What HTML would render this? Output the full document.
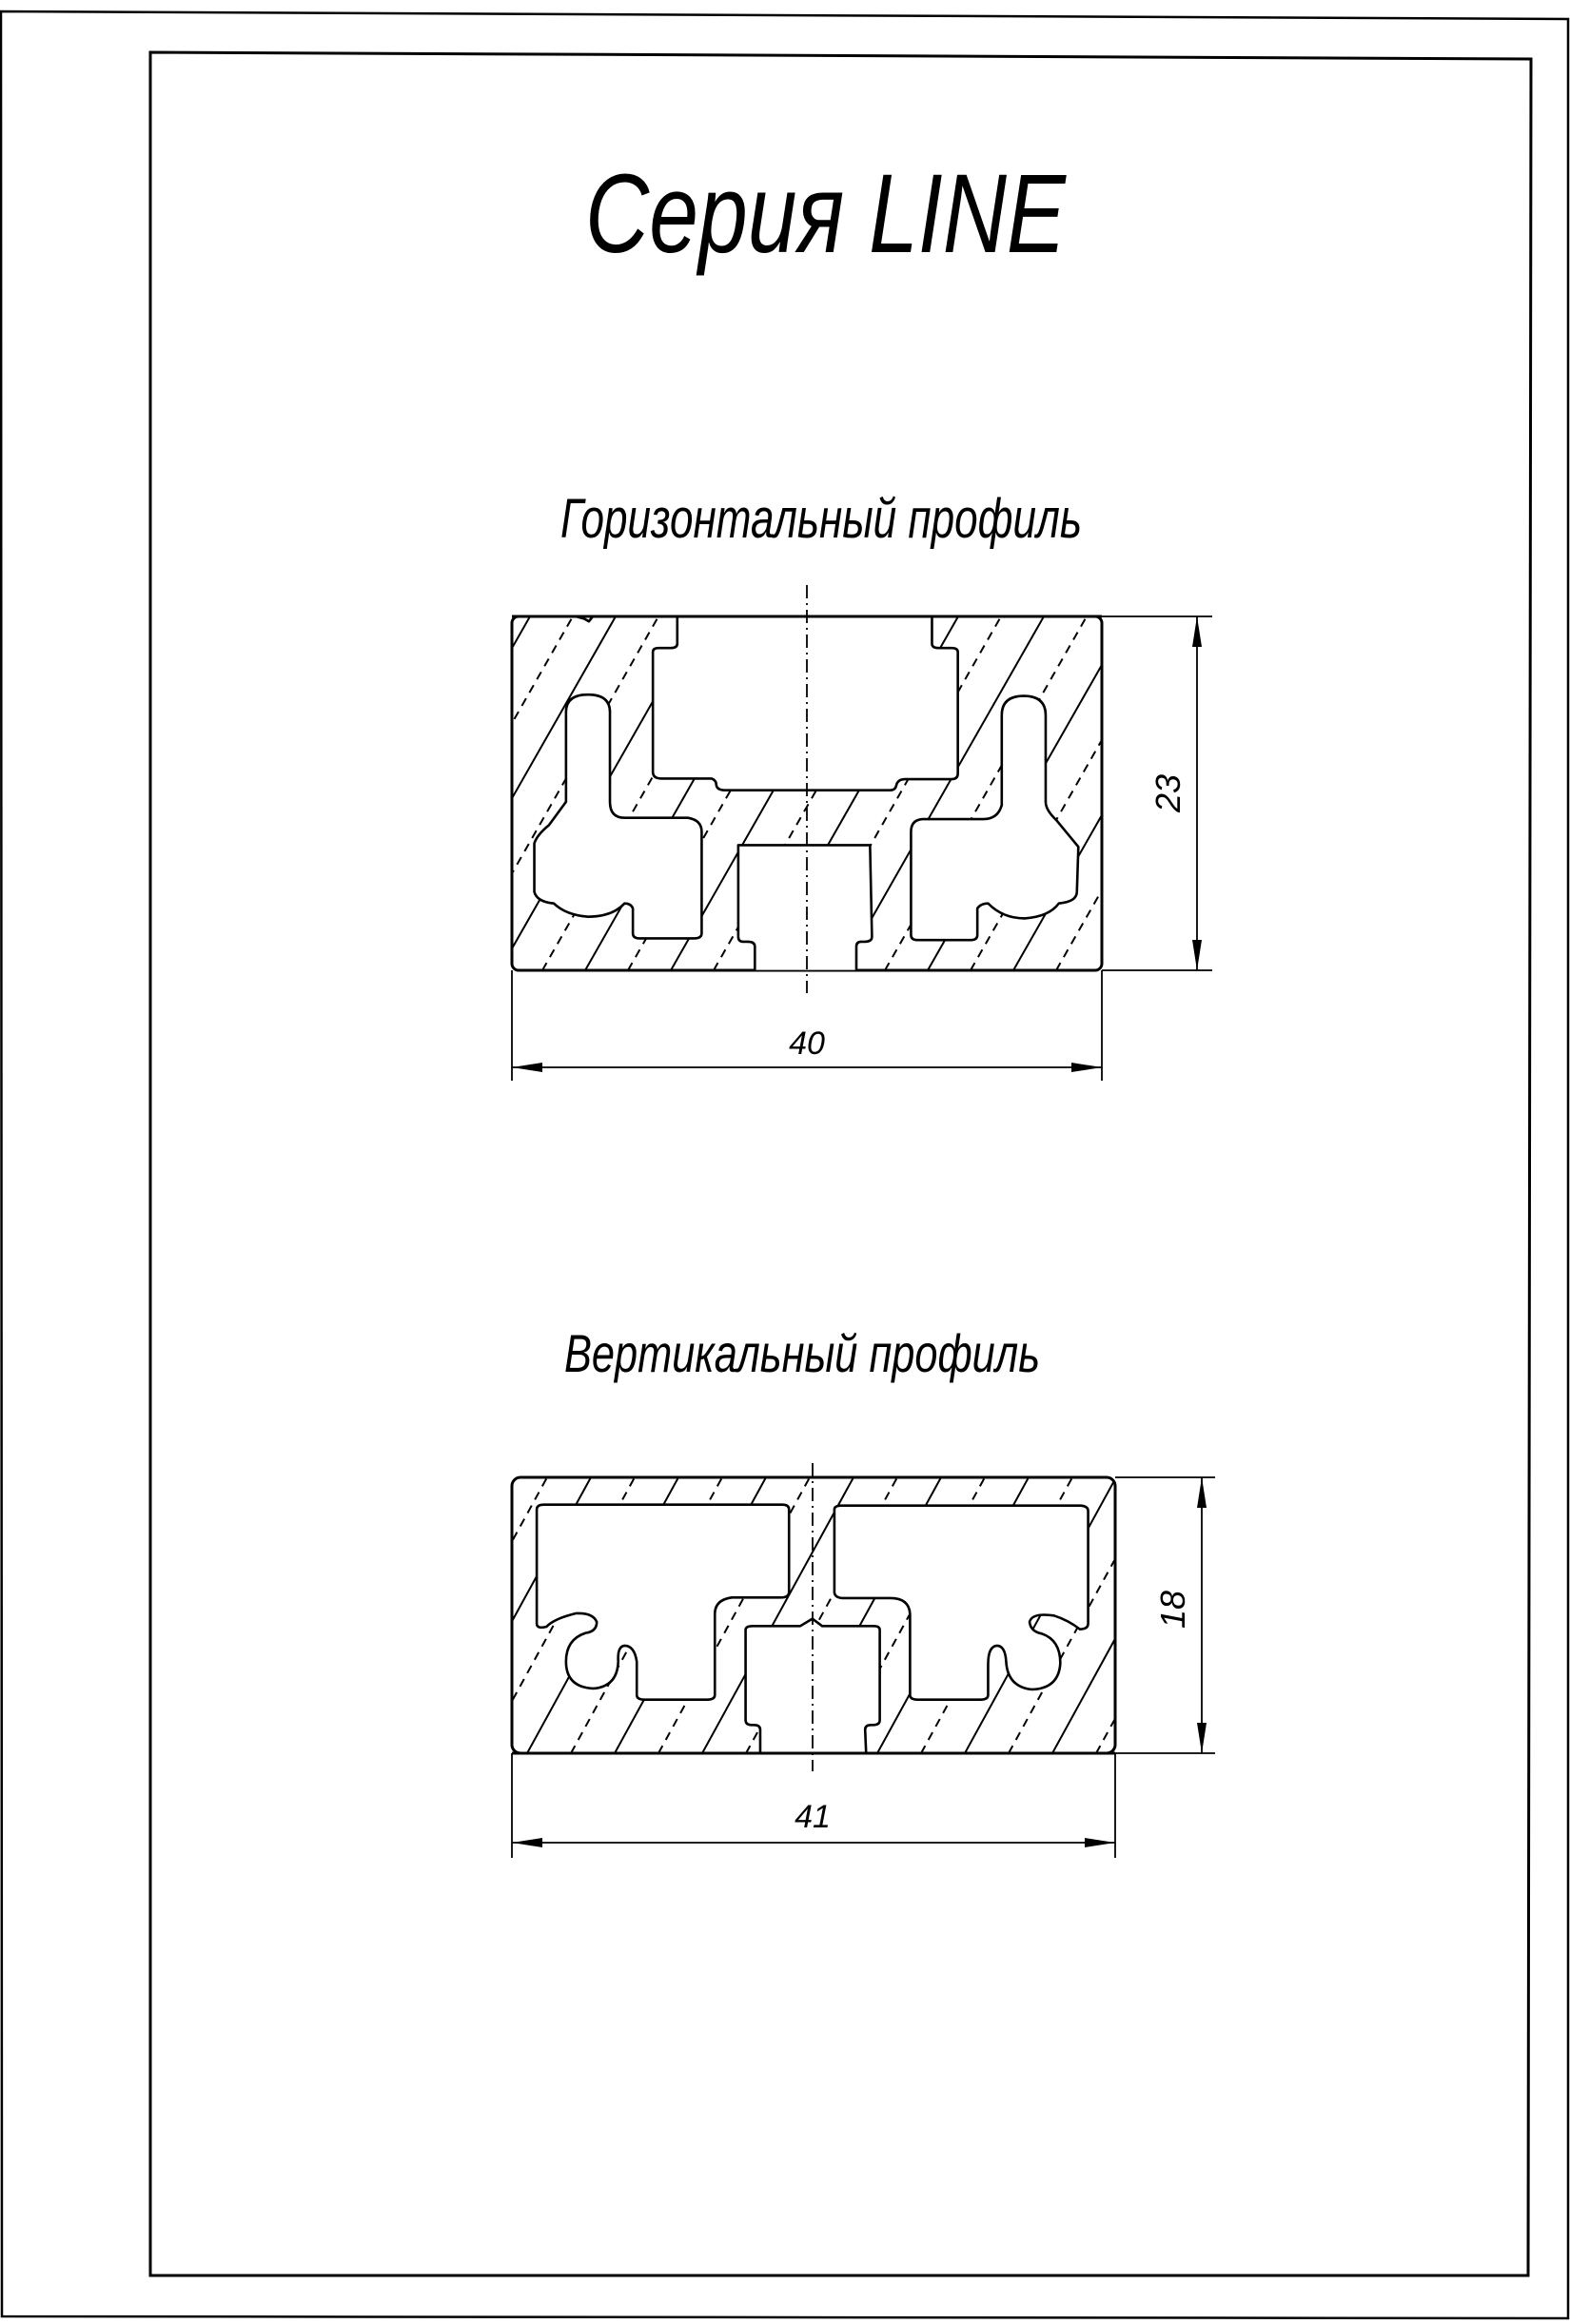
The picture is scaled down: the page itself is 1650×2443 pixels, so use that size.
<!DOCTYPE html>
<html><head><meta charset="utf-8"><style>
html,body{margin:0;padding:0;background:#fff}
svg{display:block}
text{font-family:"Liberation Sans",sans-serif;font-style:italic;fill:#000}
</style></head><body>
<svg width="1650" height="2443" viewBox="0 0 1650 2443" xmlns="http://www.w3.org/2000/svg">
<defs>
<clipPath id="c1"><rect x="538" y="648" width="620" height="372" rx="7"/></clipPath>
<clipPath id="c2"><rect x="538" y="1553" width="634" height="290" rx="9"/></clipPath>
</defs>
<path d="M1,12 L1648,20 L1648,2437 L2,2435 Z" fill="none" stroke="#000" stroke-width="2.5"/>
<path d="M158,55 L1609,62 L1606,2392 L158,2392 Z" fill="none" stroke="#000" stroke-width="3"/>

<text x="615" y="265" font-size="118" textLength="505" lengthAdjust="spacingAndGlyphs">Серия LINE</text>
<text x="589" y="565" font-size="58" textLength="548" lengthAdjust="spacingAndGlyphs">Горизонтальный профиль</text>
<text x="593" y="1442" font-size="56" textLength="500" lengthAdjust="spacingAndGlyphs">Вертикальный профиль</text>

<g clip-path="url(#c1)" stroke="#000" stroke-width="2">
<path d="M345,1020 L557,648 M435,1020 L647,648 M525,1020 L737,648 M615,1020 L827,648 M705,1020 L917,648 M795,1020 L1007,648 M885,1020 L1097,648 M975,1020 L1187,648 M1065,1020 L1277,648 M1155,1020 L1367,648"/>
<path stroke-dasharray="9,7" d="M390,1020 L602,648 M480,1020 L692,648 M570,1020 L782,648 M660,1020 L872,648 M750,1020 L962,648 M840,1020 L1052,648 M930,1020 L1142,648 M1020,1020 L1232,648 M1110,1020 L1322,648"/>
</g>
<rect x="538" y="648" width="620" height="372" rx="7" fill="none" stroke="#000" stroke-width="3"/>
<g transform="translate(500,601.4) scale(0.5128,0.350)" fill="#fff" stroke="#000" stroke-width="2.6" stroke-linejoin="round">
<path vector-effect="non-scaling-stroke" d="M413,133 L413,215 Q413,228 400,228 L375,228 Q363,228 363,240 L363,600 Q363,620 380,620 L483,620 Q493,625 493,640 Q495,655 510,655 L850,655 Q860,655 862,640 Q865,622 880,622 L975,622 Q988,622 988,605 L988,240 Q988,228 975,228 L948,228 Q935,228 935,215 L935,133 Z"/>
<path vector-effect="non-scaling-stroke" d="M185,690 L185,420 Q185,368 230,368 Q275,368 275,420 L275,690 Q275,738 305,738 L435,738 Q463,745 463,780 L463,1085 Q463,1100 448,1100 L335,1100 Q322,1100 322,1085 L322,1010 Q318,995 305,995 Q280,1035 230,1035 Q185,1030 160,995 Q125,990 120,960 L120,815 Q125,790 150,760 Z"/>
<path vector-effect="non-scaling-stroke" d="M1168,690 L1168,430 Q1168,372 1123,372 Q1078,372 1078,430 L1078,700 Q1070,742 1040,742 L915,742 Q892,745 892,780 L892,1090 Q892,1105 905,1105 L1015,1105 Q1028,1105 1028,1090 L1028,1010 Q1035,995 1050,995 Q1080,1040 1125,1040 Q1175,1035 1195,995 Q1232,990 1232,960 L1235,825 L1190,745 Q1168,715 1168,690 Z"/>
<path vector-effect="non-scaling-stroke" d="M572,1195 L572,1125 Q572,1110 558,1110 L548,1110 Q538,1110 538,1095 L538,820 L808,820 L812,1095 Q812,1110 798,1110 L790,1110 Q780,1110 780,1125 L780,1195"/>
<path vector-effect="non-scaling-stroke" d="M205,133 L222,140 L232,148 L240,133" fill="none"/>
</g>
<line x1="538" y1="648" x2="1158" y2="648" stroke="#000" stroke-width="3"/>
<g stroke="#000" stroke-width="1.8" fill="none">
<line x1="848" y1="615" x2="848" y2="1044" stroke-dasharray="14,5,2,5"/>
<line x1="1158" y1="648" x2="1274" y2="648"/>
<line x1="1158" y1="1020" x2="1274" y2="1020"/>
<line x1="1258" y1="648" x2="1258" y2="1020"/>
<line x1="538" y1="1020" x2="538" y2="1136"/>
<line x1="1158" y1="1020" x2="1158" y2="1136"/>
<line x1="538" y1="1122" x2="1158" y2="1122"/>
</g>
<g fill="#000">
<path d="M1258,648 L1253,680 L1263,680 Z"/><path d="M1258,1020 L1253,988 L1263,988 Z"/>
<path d="M538,1122 L570,1117 L570,1127 Z"/><path d="M1158,1122 L1126,1117 L1126,1127 Z"/>
</g>
<text x="848" y="1108" font-size="34" text-anchor="middle">40</text>
<text transform="translate(1240,834) rotate(-90)" font-size="36" text-anchor="middle">23</text>

<g clip-path="url(#c2)" stroke="#000" stroke-width="2">
<path d="M278,1843 L437,1553 M370,1843 L529,1553 M462,1843 L621,1553 M554,1843 L713,1553 M646,1843 L805,1553 M738,1843 L897,1553 M830,1843 L989,1553 M922,1843 L1081,1553 M1014,1843 L1173,1553 M1106,1843 L1265,1553 M1198,1843 L1357,1553"/>
<path stroke-dasharray="9,7" d="M324,1843 L483,1553 M416,1843 L575,1553 M508,1843 L667,1553 M600,1843 L759,1553 M692,1843 L851,1553 M784,1843 L943,1553 M876,1843 L1035,1553 M968,1843 L1127,1553 M1060,1843 L1219,1553 M1152,1843 L1311,1553"/>
</g>
<rect x="538" y="1553" width="634" height="290" rx="9" fill="none" stroke="#000" stroke-width="3"/>
<g transform="translate(500,1520) scale(0.5128,0.3333)" fill="#fff" stroke="#000" stroke-width="2.6" stroke-linejoin="round">
<path vector-effect="non-scaling-stroke" d="M125,200 Q125,185 140,185 L628,185 Q642,185 642,200 L642,460 Q642,478 625,478 L525,478 Q490,485 490,530 L490,785 Q490,800 475,800 L345,800 Q330,800 330,785 L330,680 Q325,630 305,630 Q290,632 292,680 Q290,760 240,765 Q185,760 185,680 Q185,610 225,590 Q248,585 248,555 Q240,525 205,528 Q160,545 145,570 Q125,578 125,560 Z"/>
<path vector-effect="non-scaling-stroke" d="M735,200 Q735,188 750,188 L1240,188 Q1255,190 1255,205 L1255,560 Q1255,578 1238,578 Q1215,550 1185,535 Q1140,525 1135,555 Q1137,585 1160,592 Q1198,612 1198,685 Q1195,765 1140,768 Q1090,760 1087,680 Q1085,630 1068,630 Q1050,632 1050,690 L1050,785 Q1050,800 1035,800 L905,800 Q890,800 890,785 L890,530 Q888,480 850,480 L752,480 Q735,478 735,460 Z"/>
<path vector-effect="non-scaling-stroke" d="M583,968 L583,895 Q583,880 570,880 L565,880 Q553,880 553,865 L553,580 Q553,568 568,568 L665,568 L690,545 L710,568 L815,568 Q828,568 828,580 L828,865 Q828,880 815,880 L810,880 Q798,880 798,895 L800,968"/>
</g>
<line x1="538" y1="1843" x2="1172" y2="1843" stroke="#000" stroke-width="3"/>
<g stroke="#000" stroke-width="1.8" fill="none">
<line x1="854" y1="1538" x2="854" y2="1862" stroke-dasharray="14,5,2,5"/>
<line x1="1172" y1="1553" x2="1277" y2="1553"/>
<line x1="1172" y1="1843" x2="1277" y2="1843"/>
<line x1="1263" y1="1553" x2="1263" y2="1843"/>
<line x1="538" y1="1843" x2="538" y2="1953"/>
<line x1="1172" y1="1843" x2="1172" y2="1953"/>
<line x1="538" y1="1937" x2="1172" y2="1937"/>
</g>
<g fill="#000">
<path d="M1263,1553 L1258,1585 L1268,1585 Z"/><path d="M1263,1843 L1258,1811 L1268,1811 Z"/>
<path d="M538,1937 L570,1932 L570,1942 Z"/><path d="M1172,1937 L1140,1932 L1140,1942 Z"/>
</g>
<text x="854" y="1921" font-size="34" text-anchor="middle">41</text>
<text transform="translate(1245,1692) rotate(-90)" font-size="36" text-anchor="middle">18</text>
</svg>
</body></html>
